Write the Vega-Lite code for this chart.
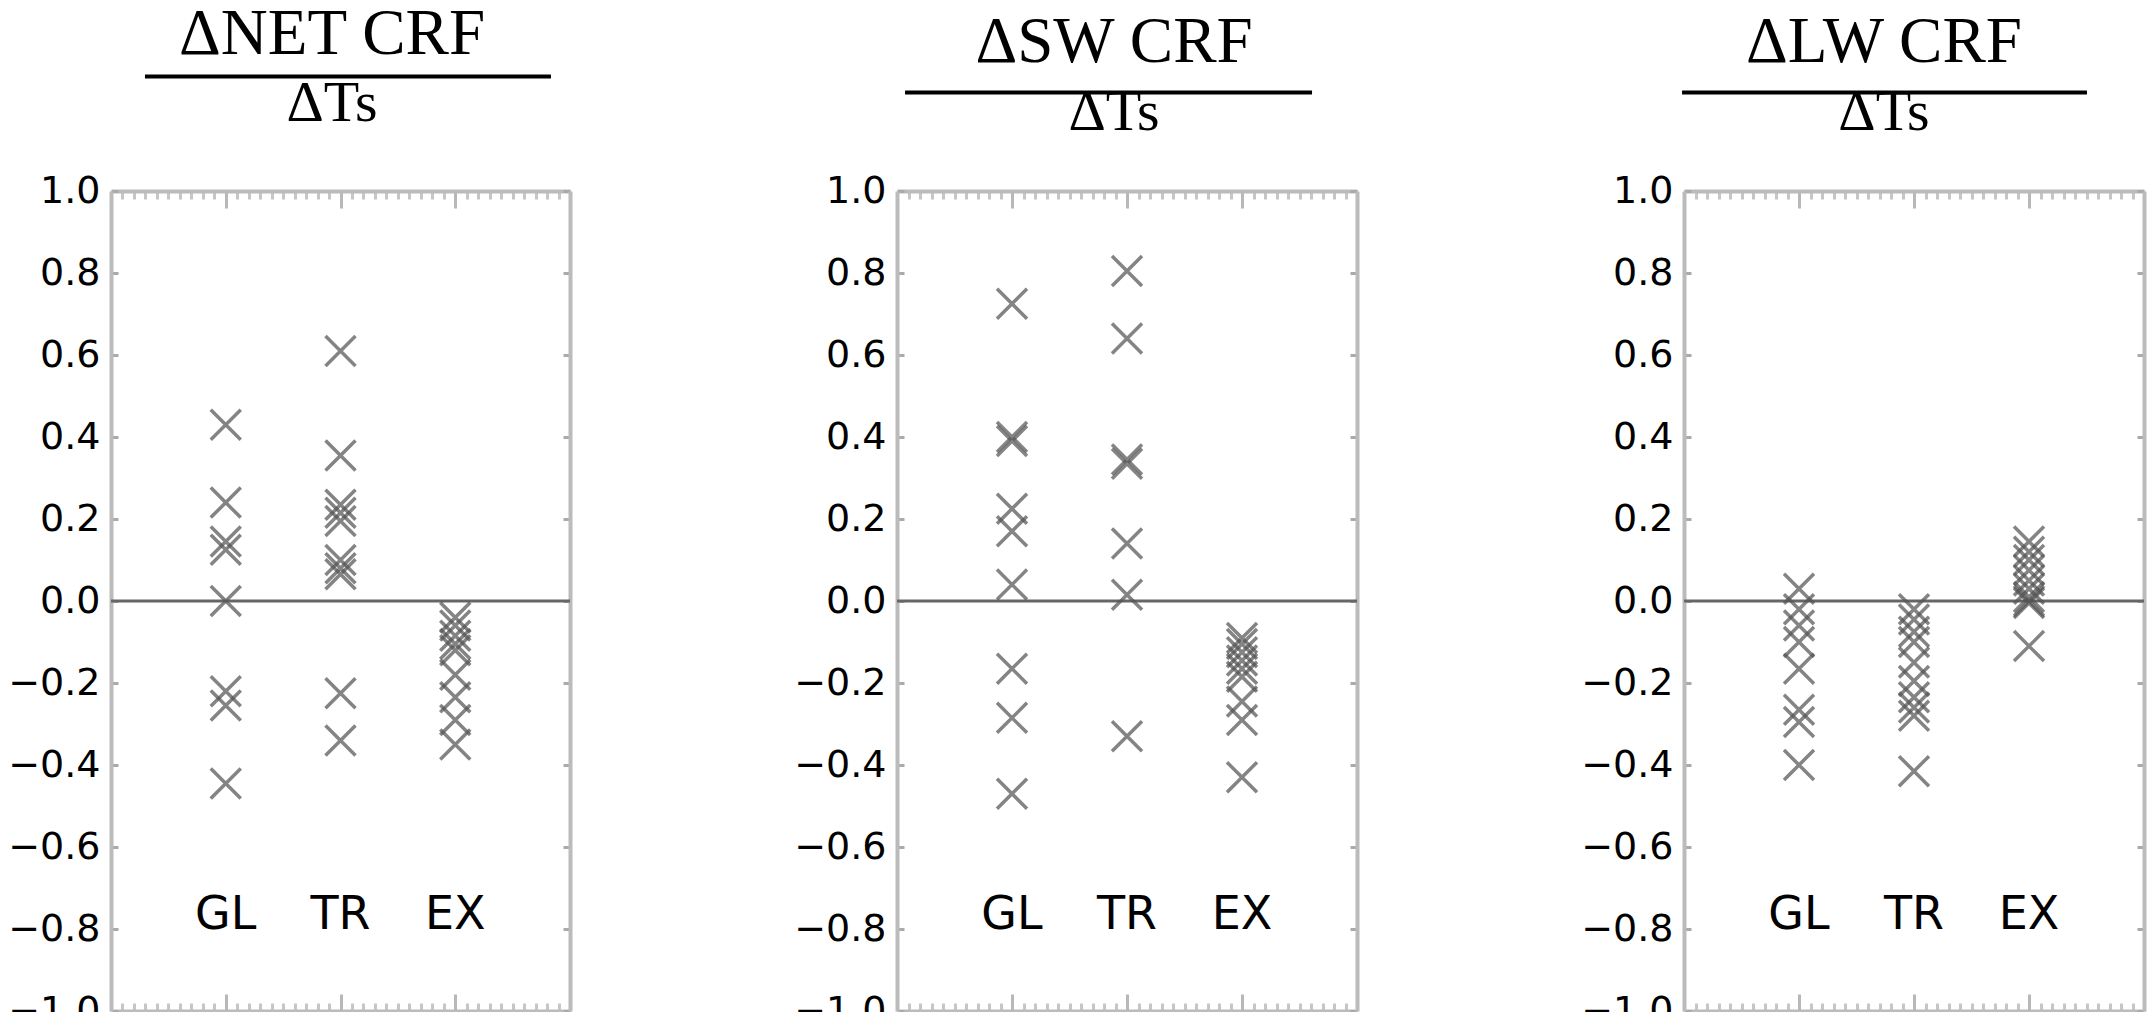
{
  "$schema": "https://vega.github.io/schema/vega-lite/v6.json",
  "autosize": {"type": "pad"},
  "padding": {"left": 7, "top": 2, "right": 4, "bottom": 4},
  "background": "white",
  "config": {"view": {"stroke": null}},
  "datasets": {
    "pts": [
      {"panel": "NET", "region": "GL", "v": 0.43},
      {"panel": "NET", "region": "GL", "v": 0.24},
      {"panel": "NET", "region": "GL", "v": 0.145},
      {"panel": "NET", "region": "GL", "v": 0.125},
      {"panel": "NET", "region": "GL", "v": 0.0},
      {"panel": "NET", "region": "GL", "v": -0.22},
      {"panel": "NET", "region": "GL", "v": -0.255},
      {"panel": "NET", "region": "GL", "v": -0.445},
      {"panel": "NET", "region": "TR", "v": 0.61},
      {"panel": "NET", "region": "TR", "v": 0.355},
      {"panel": "NET", "region": "TR", "v": 0.235},
      {"panel": "NET", "region": "TR", "v": 0.215},
      {"panel": "NET", "region": "TR", "v": 0.195},
      {"panel": "NET", "region": "TR", "v": 0.1},
      {"panel": "NET", "region": "TR", "v": 0.08},
      {"panel": "NET", "region": "TR", "v": 0.065},
      {"panel": "NET", "region": "TR", "v": -0.225},
      {"panel": "NET", "region": "TR", "v": -0.34},
      {"panel": "NET", "region": "EX", "v": -0.04},
      {"panel": "NET", "region": "EX", "v": -0.06},
      {"panel": "NET", "region": "EX", "v": -0.085},
      {"panel": "NET", "region": "EX", "v": -0.105},
      {"panel": "NET", "region": "EX", "v": -0.12},
      {"panel": "NET", "region": "EX", "v": -0.18},
      {"panel": "NET", "region": "EX", "v": -0.235},
      {"panel": "NET", "region": "EX", "v": -0.29},
      {"panel": "NET", "region": "EX", "v": -0.35},
      {"panel": "SW", "region": "GL", "v": 0.725},
      {"panel": "SW", "region": "GL", "v": 0.4},
      {"panel": "SW", "region": "GL", "v": 0.39},
      {"panel": "SW", "region": "GL", "v": 0.225},
      {"panel": "SW", "region": "GL", "v": 0.17},
      {"panel": "SW", "region": "GL", "v": 0.04},
      {"panel": "SW", "region": "GL", "v": -0.165},
      {"panel": "SW", "region": "GL", "v": -0.285},
      {"panel": "SW", "region": "GL", "v": -0.47},
      {"panel": "SW", "region": "TR", "v": 0.805},
      {"panel": "SW", "region": "TR", "v": 0.64},
      {"panel": "SW", "region": "TR", "v": 0.345},
      {"panel": "SW", "region": "TR", "v": 0.335},
      {"panel": "SW", "region": "TR", "v": 0.14},
      {"panel": "SW", "region": "TR", "v": 0.015},
      {"panel": "SW", "region": "TR", "v": -0.33},
      {"panel": "SW", "region": "EX", "v": -0.09},
      {"panel": "SW", "region": "EX", "v": -0.105},
      {"panel": "SW", "region": "EX", "v": -0.125},
      {"panel": "SW", "region": "EX", "v": -0.145},
      {"panel": "SW", "region": "EX", "v": -0.165},
      {"panel": "SW", "region": "EX", "v": -0.185},
      {"panel": "SW", "region": "EX", "v": -0.245},
      {"panel": "SW", "region": "EX", "v": -0.29},
      {"panel": "SW", "region": "EX", "v": -0.43},
      {"panel": "LW", "region": "GL", "v": 0.03},
      {"panel": "LW", "region": "GL", "v": -0.02},
      {"panel": "LW", "region": "GL", "v": -0.06},
      {"panel": "LW", "region": "GL", "v": -0.1},
      {"panel": "LW", "region": "GL", "v": -0.165},
      {"panel": "LW", "region": "GL", "v": -0.265},
      {"panel": "LW", "region": "GL", "v": -0.295},
      {"panel": "LW", "region": "GL", "v": -0.4},
      {"panel": "LW", "region": "TR", "v": -0.02},
      {"panel": "LW", "region": "TR", "v": -0.045},
      {"panel": "LW", "region": "TR", "v": -0.075},
      {"panel": "LW", "region": "TR", "v": -0.1},
      {"panel": "LW", "region": "TR", "v": -0.15},
      {"panel": "LW", "region": "TR", "v": -0.195},
      {"panel": "LW", "region": "TR", "v": -0.235},
      {"panel": "LW", "region": "TR", "v": -0.26},
      {"panel": "LW", "region": "TR", "v": -0.28},
      {"panel": "LW", "region": "TR", "v": -0.415},
      {"panel": "LW", "region": "EX", "v": 0.145},
      {"panel": "LW", "region": "EX", "v": 0.12},
      {"panel": "LW", "region": "EX", "v": 0.1},
      {"panel": "LW", "region": "EX", "v": 0.075},
      {"panel": "LW", "region": "EX", "v": 0.05},
      {"panel": "LW", "region": "EX", "v": 0.03},
      {"panel": "LW", "region": "EX", "v": 0.01},
      {"panel": "LW", "region": "EX", "v": 0.0},
      {"panel": "LW", "region": "EX", "v": -0.005},
      {"panel": "LW", "region": "EX", "v": -0.11}
    ]
  },
  "spacing": 327,
  "bounds": "flush",
  "hconcat": [
    {
      "width": 459, "height": 820,
      "layer": [
        {"data": {"values": [{}]}, "mark": {"type": "rule", "opacity": 0}, "encoding": {"x": {"datum": 0, "type": "quantitative", "scale": {"domain": [0, 4], "nice": false}, "axis": {"orient": "top", "values": [0.1,0.2,0.3,0.4,0.5,0.6,0.7,0.8,0.9,1.1,1.2,1.3,1.4,1.5,1.6,1.7,1.8,1.9,2.1,2.2,2.3,2.4,2.5,2.6,2.7,2.8,2.9,3.1,3.2,3.3,3.4,3.5,3.6,3.7,3.8,3.9], "tickSize": -8, "tickColor": "#c6c6c6", "tickWidth": 3, "labels": false, "domain": true, "domainColor": "#bbbbbb", "domainWidth": 4, "grid": false, "title": null}}}},
        {"data": {"values": [{}]}, "mark": {"type": "rule", "opacity": 0}, "encoding": {"x": {"datum": 0, "type": "quantitative", "scale": {"domain": [0, 4], "nice": false}, "axis": {"orient": "top", "values": [1, 2, 3], "tickSize": -17, "tickColor": "#b8b8b8", "tickWidth": 3, "labels": false, "domain": false, "grid": false, "title": null}}}},
        {"data": {"values": [{}]}, "mark": {"type": "rule", "opacity": 0}, "encoding": {"x": {"datum": 0, "type": "quantitative", "scale": {"domain": [0, 4], "nice": false}, "axis": {"orient": "bottom", "values": [0.1,0.2,0.3,0.4,0.5,0.6,0.7,0.8,0.9,1.1,1.2,1.3,1.4,1.5,1.6,1.7,1.8,1.9,2.1,2.2,2.3,2.4,2.5,2.6,2.7,2.8,2.9,3.1,3.2,3.3,3.4,3.5,3.6,3.7,3.8,3.9], "tickSize": -8, "tickColor": "#c6c6c6", "tickWidth": 3, "labels": false, "domain": true, "domainColor": "#bbbbbb", "domainWidth": 4, "grid": false, "title": null}}}},
        {"data": {"values": [{}]}, "mark": {"type": "rule", "opacity": 0}, "encoding": {"x": {"datum": 0, "type": "quantitative", "scale": {"domain": [0, 4], "nice": false}, "axis": {"orient": "bottom", "values": [1, 2, 3], "tickSize": -17, "tickColor": "#b8b8b8", "tickWidth": 3, "labels": false, "domain": false, "grid": false, "title": null}}}},
        {"data": {"values": [{}]}, "mark": {"type": "rule", "color": "#666666", "strokeWidth": 3}, "encoding": {"y": {"datum": 0, "type": "quantitative", "scale": {"domain": [-1, 1], "nice": false}, "axis": {"orient": "right", "values": [-1,-0.8,-0.6,-0.4,-0.2,0,0.2,0.4,0.6,0.8,1], "tickSize": -7, "tickColor": "#aaaaaa", "tickWidth": 3, "labels": false, "domain": true, "domainColor": "#bbbbbb", "domainWidth": 4, "grid": false, "title": null}}}},
        {"data": {"name": "pts"}, "transform": [{"filter": "datum.panel === 'NET'"}], "mark": {"type": "point", "shape": "M-1,-1L1,1M-1,1L1,-1", "size": 900, "filled": false, "stroke": "#555555", "strokeWidth": 3.5, "opacity": 0.72}, "encoding": {"x": {"field": "region", "type": "nominal", "scale": {"type": "point", "domain": ["GL", "TR", "EX"], "padding": 1}, "axis": null}, "y": {"field": "v", "type": "quantitative", "scale": {"domain": [-1, 1], "nice": false}, "axis": {"orient": "left", "values": [-1,-0.8,-0.6,-0.4,-0.2,0,0.2,0.4,0.6,0.8,1], "format": ".1f", "tickSize": -7, "tickColor": "#aaaaaa", "tickWidth": 3, "labelFont": "DejaVu Sans", "labelFontSize": 38, "labelColor": "#000000", "labelPadding": 18, "labelOverlap": false, "labelFlush": false, "domain": true, "domainColor": "#bbbbbb", "domainWidth": 4, "grid": false, "title": null}}}},
        {"data": {"name": "pts"}, "transform": [{"filter": "datum.panel === 'NET'"}, {"aggregate": [{"op": "count", "as": "n"}], "groupby": ["region"]}], "mark": {"type": "text", "font": "DejaVu Sans", "fontSize": 46, "baseline": "alphabetic", "align": "center", "color": "#000000"}, "encoding": {"x": {"field": "region", "type": "nominal", "scale": {"type": "point", "domain": ["GL", "TR", "EX"], "padding": 1}, "axis": null}, "y": {"datum": -0.8, "type": "quantitative", "scale": {"domain": [-1, 1], "nice": false}, "axis": null}, "text": {"field": "region"}}},
        {"data": {"values": [{}]}, "mark": {"type": "text", "text": "ΔNET CRF", "font": "Liberation Serif", "fontSize": 65, "baseline": "alphabetic", "align": "center", "color": "#000000"}, "encoding": {"x": {"datum": 1.926, "type": "quantitative", "scale": {"domain": [0, 4], "nice": false}, "axis": null}, "y": {"datum": 1.334, "type": "quantitative", "scale": {"domain": [-1, 1], "nice": false}, "axis": null}}},
        {"data": {"values": [{}]}, "mark": {"type": "rule", "color": "#000000", "strokeWidth": 4}, "encoding": {"x": {"datum": 0.296, "type": "quantitative", "scale": {"domain": [0, 4], "nice": false}, "axis": null}, "x2": {"datum": 3.834}, "y": {"datum": 1.279, "type": "quantitative", "scale": {"domain": [-1, 1], "nice": false}, "axis": null}}},
        {"data": {"values": [{}]}, "mark": {"type": "text", "text": "ΔTs", "font": "Liberation Serif", "fontSize": 58, "baseline": "alphabetic", "align": "center", "color": "#000000"}, "encoding": {"x": {"datum": 1.926, "type": "quantitative", "scale": {"domain": [0, 4], "nice": false}, "axis": null}, "y": {"datum": 1.17, "type": "quantitative", "scale": {"domain": [-1, 1], "nice": false}, "axis": null}}}
      ],
      "resolve": {"scale": {"x": "independent"}, "axis": {"x": "independent", "y": "independent"}}
    },
    {
      "width": 460, "height": 820,
      "layer": [
        {"data": {"values": [{}]}, "mark": {"type": "rule", "opacity": 0}, "encoding": {"x": {"datum": 0, "type": "quantitative", "scale": {"domain": [0, 4], "nice": false}, "axis": {"orient": "top", "values": [0.1,0.2,0.3,0.4,0.5,0.6,0.7,0.8,0.9,1.1,1.2,1.3,1.4,1.5,1.6,1.7,1.8,1.9,2.1,2.2,2.3,2.4,2.5,2.6,2.7,2.8,2.9,3.1,3.2,3.3,3.4,3.5,3.6,3.7,3.8,3.9], "tickSize": -8, "tickColor": "#c6c6c6", "tickWidth": 3, "labels": false, "domain": true, "domainColor": "#bbbbbb", "domainWidth": 4, "grid": false, "title": null}}}},
        {"data": {"values": [{}]}, "mark": {"type": "rule", "opacity": 0}, "encoding": {"x": {"datum": 0, "type": "quantitative", "scale": {"domain": [0, 4], "nice": false}, "axis": {"orient": "top", "values": [1, 2, 3], "tickSize": -17, "tickColor": "#b8b8b8", "tickWidth": 3, "labels": false, "domain": false, "grid": false, "title": null}}}},
        {"data": {"values": [{}]}, "mark": {"type": "rule", "opacity": 0}, "encoding": {"x": {"datum": 0, "type": "quantitative", "scale": {"domain": [0, 4], "nice": false}, "axis": {"orient": "bottom", "values": [0.1,0.2,0.3,0.4,0.5,0.6,0.7,0.8,0.9,1.1,1.2,1.3,1.4,1.5,1.6,1.7,1.8,1.9,2.1,2.2,2.3,2.4,2.5,2.6,2.7,2.8,2.9,3.1,3.2,3.3,3.4,3.5,3.6,3.7,3.8,3.9], "tickSize": -8, "tickColor": "#c6c6c6", "tickWidth": 3, "labels": false, "domain": true, "domainColor": "#bbbbbb", "domainWidth": 4, "grid": false, "title": null}}}},
        {"data": {"values": [{}]}, "mark": {"type": "rule", "opacity": 0}, "encoding": {"x": {"datum": 0, "type": "quantitative", "scale": {"domain": [0, 4], "nice": false}, "axis": {"orient": "bottom", "values": [1, 2, 3], "tickSize": -17, "tickColor": "#b8b8b8", "tickWidth": 3, "labels": false, "domain": false, "grid": false, "title": null}}}},
        {"data": {"values": [{}]}, "mark": {"type": "rule", "color": "#666666", "strokeWidth": 3}, "encoding": {"y": {"datum": 0, "type": "quantitative", "scale": {"domain": [-1, 1], "nice": false}, "axis": {"orient": "right", "values": [-1,-0.8,-0.6,-0.4,-0.2,0,0.2,0.4,0.6,0.8,1], "tickSize": -7, "tickColor": "#aaaaaa", "tickWidth": 3, "labels": false, "domain": true, "domainColor": "#bbbbbb", "domainWidth": 4, "grid": false, "title": null}}}},
        {"data": {"name": "pts"}, "transform": [{"filter": "datum.panel === 'SW'"}], "mark": {"type": "point", "shape": "M-1,-1L1,1M-1,1L1,-1", "size": 900, "filled": false, "stroke": "#555555", "strokeWidth": 3.5, "opacity": 0.72}, "encoding": {"x": {"field": "region", "type": "nominal", "scale": {"type": "point", "domain": ["GL", "TR", "EX"], "padding": 1}, "axis": null}, "y": {"field": "v", "type": "quantitative", "scale": {"domain": [-1, 1], "nice": false}, "axis": {"orient": "left", "values": [-1,-0.8,-0.6,-0.4,-0.2,0,0.2,0.4,0.6,0.8,1], "format": ".1f", "tickSize": -7, "tickColor": "#aaaaaa", "tickWidth": 3, "labelFont": "DejaVu Sans", "labelFontSize": 38, "labelColor": "#000000", "labelPadding": 18, "labelOverlap": false, "labelFlush": false, "domain": true, "domainColor": "#bbbbbb", "domainWidth": 4, "grid": false, "title": null}}}},
        {"data": {"name": "pts"}, "transform": [{"filter": "datum.panel === 'SW'"}, {"aggregate": [{"op": "count", "as": "n"}], "groupby": ["region"]}], "mark": {"type": "text", "font": "DejaVu Sans", "fontSize": 46, "baseline": "alphabetic", "align": "center", "color": "#000000"}, "encoding": {"x": {"field": "region", "type": "nominal", "scale": {"type": "point", "domain": ["GL", "TR", "EX"], "padding": 1}, "axis": null}, "y": {"datum": -0.8, "type": "quantitative", "scale": {"domain": [-1, 1], "nice": false}, "axis": null}, "text": {"field": "region"}}},
        {"data": {"values": [{}]}, "mark": {"type": "text", "text": "ΔSW CRF", "font": "Liberation Serif", "fontSize": 65, "baseline": "alphabetic", "align": "center", "color": "#000000"}, "encoding": {"x": {"datum": 1.887, "type": "quantitative", "scale": {"domain": [0, 4], "nice": false}, "axis": null}, "y": {"datum": 1.315, "type": "quantitative", "scale": {"domain": [-1, 1], "nice": false}, "axis": null}}},
        {"data": {"values": [{}]}, "mark": {"type": "rule", "color": "#000000", "strokeWidth": 4}, "encoding": {"x": {"datum": 0.07, "type": "quantitative", "scale": {"domain": [0, 4], "nice": false}, "axis": null}, "x2": {"datum": 3.609}, "y": {"datum": 1.24, "type": "quantitative", "scale": {"domain": [-1, 1], "nice": false}, "axis": null}}},
        {"data": {"values": [{}]}, "mark": {"type": "text", "text": "ΔTs", "font": "Liberation Serif", "fontSize": 58, "baseline": "alphabetic", "align": "center", "color": "#000000"}, "encoding": {"x": {"datum": 1.887, "type": "quantitative", "scale": {"domain": [0, 4], "nice": false}, "axis": null}, "y": {"datum": 1.149, "type": "quantitative", "scale": {"domain": [-1, 1], "nice": false}, "axis": null}}}
      ],
      "resolve": {"scale": {"x": "independent"}, "axis": {"x": "independent", "y": "independent"}}
    },
    {
      "width": 460, "height": 820,
      "layer": [
        {"data": {"values": [{}]}, "mark": {"type": "rule", "opacity": 0}, "encoding": {"x": {"datum": 0, "type": "quantitative", "scale": {"domain": [0, 4], "nice": false}, "axis": {"orient": "top", "values": [0.1,0.2,0.3,0.4,0.5,0.6,0.7,0.8,0.9,1.1,1.2,1.3,1.4,1.5,1.6,1.7,1.8,1.9,2.1,2.2,2.3,2.4,2.5,2.6,2.7,2.8,2.9,3.1,3.2,3.3,3.4,3.5,3.6,3.7,3.8,3.9], "tickSize": -8, "tickColor": "#c6c6c6", "tickWidth": 3, "labels": false, "domain": true, "domainColor": "#bbbbbb", "domainWidth": 4, "grid": false, "title": null}}}},
        {"data": {"values": [{}]}, "mark": {"type": "rule", "opacity": 0}, "encoding": {"x": {"datum": 0, "type": "quantitative", "scale": {"domain": [0, 4], "nice": false}, "axis": {"orient": "top", "values": [1, 2, 3], "tickSize": -17, "tickColor": "#b8b8b8", "tickWidth": 3, "labels": false, "domain": false, "grid": false, "title": null}}}},
        {"data": {"values": [{}]}, "mark": {"type": "rule", "opacity": 0}, "encoding": {"x": {"datum": 0, "type": "quantitative", "scale": {"domain": [0, 4], "nice": false}, "axis": {"orient": "bottom", "values": [0.1,0.2,0.3,0.4,0.5,0.6,0.7,0.8,0.9,1.1,1.2,1.3,1.4,1.5,1.6,1.7,1.8,1.9,2.1,2.2,2.3,2.4,2.5,2.6,2.7,2.8,2.9,3.1,3.2,3.3,3.4,3.5,3.6,3.7,3.8,3.9], "tickSize": -8, "tickColor": "#c6c6c6", "tickWidth": 3, "labels": false, "domain": true, "domainColor": "#bbbbbb", "domainWidth": 4, "grid": false, "title": null}}}},
        {"data": {"values": [{}]}, "mark": {"type": "rule", "opacity": 0}, "encoding": {"x": {"datum": 0, "type": "quantitative", "scale": {"domain": [0, 4], "nice": false}, "axis": {"orient": "bottom", "values": [1, 2, 3], "tickSize": -17, "tickColor": "#b8b8b8", "tickWidth": 3, "labels": false, "domain": false, "grid": false, "title": null}}}},
        {"data": {"values": [{}]}, "mark": {"type": "rule", "color": "#666666", "strokeWidth": 3}, "encoding": {"y": {"datum": 0, "type": "quantitative", "scale": {"domain": [-1, 1], "nice": false}, "axis": {"orient": "right", "values": [-1,-0.8,-0.6,-0.4,-0.2,0,0.2,0.4,0.6,0.8,1], "tickSize": -7, "tickColor": "#aaaaaa", "tickWidth": 3, "labels": false, "domain": true, "domainColor": "#bbbbbb", "domainWidth": 4, "grid": false, "title": null}}}},
        {"data": {"name": "pts"}, "transform": [{"filter": "datum.panel === 'LW'"}], "mark": {"type": "point", "shape": "M-1,-1L1,1M-1,1L1,-1", "size": 900, "filled": false, "stroke": "#555555", "strokeWidth": 3.5, "opacity": 0.72}, "encoding": {"x": {"field": "region", "type": "nominal", "scale": {"type": "point", "domain": ["GL", "TR", "EX"], "padding": 1}, "axis": null}, "y": {"field": "v", "type": "quantitative", "scale": {"domain": [-1, 1], "nice": false}, "axis": {"orient": "left", "values": [-1,-0.8,-0.6,-0.4,-0.2,0,0.2,0.4,0.6,0.8,1], "format": ".1f", "tickSize": -7, "tickColor": "#aaaaaa", "tickWidth": 3, "labelFont": "DejaVu Sans", "labelFontSize": 38, "labelColor": "#000000", "labelPadding": 18, "labelOverlap": false, "labelFlush": false, "domain": true, "domainColor": "#bbbbbb", "domainWidth": 4, "grid": false, "title": null}}}},
        {"data": {"name": "pts"}, "transform": [{"filter": "datum.panel === 'LW'"}, {"aggregate": [{"op": "count", "as": "n"}], "groupby": ["region"]}], "mark": {"type": "text", "font": "DejaVu Sans", "fontSize": 46, "baseline": "alphabetic", "align": "center", "color": "#000000"}, "encoding": {"x": {"field": "region", "type": "nominal", "scale": {"type": "point", "domain": ["GL", "TR", "EX"], "padding": 1}, "axis": null}, "y": {"datum": -0.8, "type": "quantitative", "scale": {"domain": [-1, 1], "nice": false}, "axis": null}, "text": {"field": "region"}}},
        {"data": {"values": [{}]}, "mark": {"type": "text", "text": "ΔLW CRF", "font": "Liberation Serif", "fontSize": 65, "baseline": "alphabetic", "align": "center", "color": "#000000"}, "encoding": {"x": {"datum": 1.739, "type": "quantitative", "scale": {"domain": [0, 4], "nice": false}, "axis": null}, "y": {"datum": 1.315, "type": "quantitative", "scale": {"domain": [-1, 1], "nice": false}, "axis": null}}},
        {"data": {"values": [{}]}, "mark": {"type": "rule", "color": "#000000", "strokeWidth": 4}, "encoding": {"x": {"datum": -0.017, "type": "quantitative", "scale": {"domain": [0, 4], "nice": false}, "axis": null}, "x2": {"datum": 3.504}, "y": {"datum": 1.24, "type": "quantitative", "scale": {"domain": [-1, 1], "nice": false}, "axis": null}}},
        {"data": {"values": [{}]}, "mark": {"type": "text", "text": "ΔTs", "font": "Liberation Serif", "fontSize": 58, "baseline": "alphabetic", "align": "center", "color": "#000000"}, "encoding": {"x": {"datum": 1.739, "type": "quantitative", "scale": {"domain": [0, 4], "nice": false}, "axis": null}, "y": {"datum": 1.149, "type": "quantitative", "scale": {"domain": [-1, 1], "nice": false}, "axis": null}}}
      ],
      "resolve": {"scale": {"x": "independent"}, "axis": {"x": "independent", "y": "independent"}}
    }
  ]
}
